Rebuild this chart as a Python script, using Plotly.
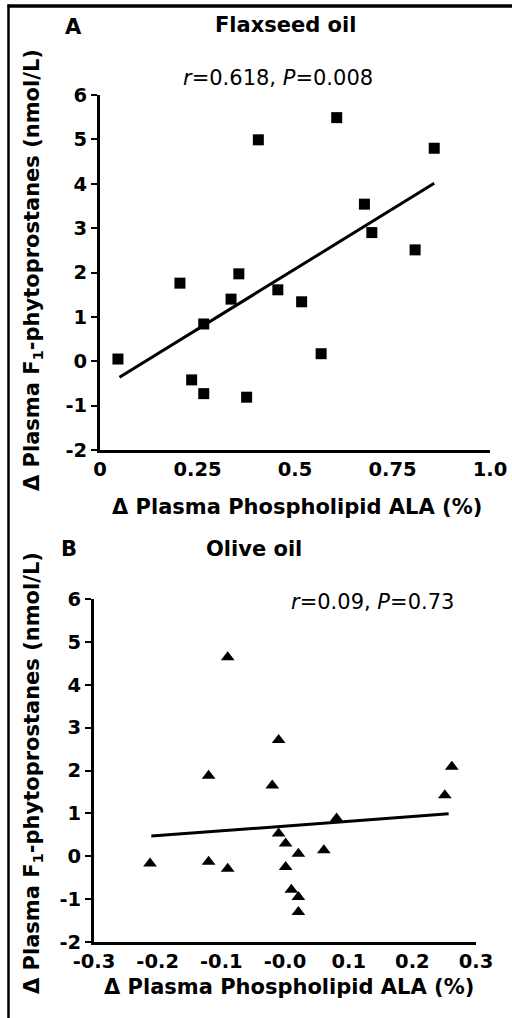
import plotly.graph_objects as go

W, H = 512, 1018

# Panel A: Flaxseed oil
flax_ala = [0.046, 0.205, 0.235, 0.266, 0.266, 0.336, 0.356, 0.376, 0.406,
            0.456, 0.517, 0.567, 0.607, 0.678, 0.697, 0.808, 0.857]
flax_f1 = [0.05, 1.76, -0.42, -0.73, 0.84, 1.40, 1.97, -0.81, 4.99,
           1.61, 1.34, 0.17, 5.49, 3.54, 2.90, 2.51, 4.80]
flax_fit_x = [0.05, 0.857]
flax_fit_y = [-0.36, 4.01]

# Panel B: Olive oil
olive_ala = [-0.212, -0.120, -0.120, -0.090, -0.090, -0.020, -0.010, -0.010,
             0.001, 0.021, 0.001, 0.010, 0.021, 0.021, 0.061, 0.081, 0.251, 0.262]
olive_f1 = [-0.17, 1.88, -0.13, -0.29, 4.64, 1.65, 2.71, 0.53,
            0.30, 0.06, -0.25, -0.78, -0.95, -1.30, 0.14, 0.88, 1.42, 2.09]
olive_fit_x = [-0.210, 0.257]
olive_fit_y = [0.47, 0.99]

y_ticks = [-2, -1, 0, 1, 2, 3, 4, 5, 6]
y_ticktext = ["-2", "-1", "0", "1", "2", "3", "4", "5", "6"]
xa_ticks = [0, 0.25, 0.5, 0.75, 1.0]
xa_ticktext = ["0", "0.25", "0.5", "0.75", "1.0"]
xb_ticks = [-0.3, -0.2, -0.1, 0.0, 0.1, 0.2, 0.3]
xb_ticktext = ["-0.3", "-0.2", "-0.1", "-0.0", "0.1", "0.2", "0.3"]

x_title = "\u0394 Plasma Phospholipid ALA (%)"
y_title = "\u0394 Plasma F<sub>1</sub>-phytoprostanes (nmol/L)"

FONT = "DejaVu Sans"
tickfont = dict(family=FONT, size=19.5, color="black", weight="bold")

fig = go.Figure()
fig.add_trace(go.Scatter(x=flax_ala, y=flax_f1, mode="markers",
                         marker=dict(symbol="square", size=11, color="black"),
                         xaxis="x", yaxis="y"))
fig.add_trace(go.Scatter(x=flax_fit_x, y=flax_fit_y, mode="lines",
                         line=dict(color="black", width=3), xaxis="x", yaxis="y"))
fig.add_trace(go.Scatter(x=olive_ala, y=olive_f1, mode="markers",
                         marker=dict(symbol="triangle-up", size=12, color="black"),
                         xaxis="x2", yaxis="y2"))
fig.add_trace(go.Scatter(x=olive_fit_x, y=olive_fit_y, mode="lines",
                         line=dict(color="black", width=3), xaxis="x2", yaxis="y2"))


def px(x):
    return x / W


def py(y):
    return 1 - y / H


xcommon = dict(showline=True, linecolor="black", linewidth=3, ticks="",
               showgrid=False, zeroline=False, tickmode="array", tickfont=tickfont,
               automargin=False)
ycommon = dict(showline=True, linecolor="black", linewidth=3, ticks="outside",
               ticklen=6, tickwidth=2, tickcolor="black", showgrid=False,
               zeroline=False, tickmode="array", tickvals=y_ticks,
               ticktext=y_ticktext, range=[-2, 6], tickfont=tickfont,
               automargin=False)

fig.update_layout(
    template="none",
    width=W, height=H,
    margin=dict(l=0, r=0, t=0, b=0, pad=0, autoexpand=False),
    paper_bgcolor="white", plot_bgcolor="white",
    showlegend=False, hovermode=False,
    xaxis=dict(domain=[px(100), px(490)], range=[0, 1.0], anchor="y",
               tickvals=xa_ticks, ticktext=xa_ticktext, **xcommon),
    yaxis=dict(domain=[py(450), py(95)], anchor="x", **ycommon),
    xaxis2=dict(domain=[px(94), px(476)], range=[-0.3, 0.3], anchor="y2",
                tickvals=xb_ticks, ticktext=xb_ticktext, **xcommon),
    yaxis2=dict(domain=[py(942), py(599)], anchor="x2", **ycommon),
)

bold = dict(family=FONT, size=21, color="black", weight="bold")
reg = dict(family=FONT, size=21, color="black")

ann = [
    ("A", 73, 27, bold, 0),
    ("Flaxseed oil", 285, 25, bold, 0),
    ("<i>r</i>=0.618, <i>P</i>=0.008", 278, 78, reg, 0),
    (x_title, 297, 507, bold, 0),
    (y_title, 33, 270, bold, -90),
    ("B", 69, 549, bold, 0),
    ("Olive oil", 254, 549, bold, 0),
    ("<i>r</i>=0.09, <i>P</i>=0.73", 372, 602, reg, 0),
    (x_title, 289, 987, bold, 0),
    (y_title, 33, 773, bold, -90),
]
for text, x, y, f, ang in ann:
    fig.add_annotation(text=text, x=px(x), y=py(y), xref="paper", yref="paper",
                       xanchor="center", yanchor="middle", showarrow=False,
                       font=f, textangle=ang)

# outer frame: top and left edges visible in the reference
fig.add_shape(type="line", xref="paper", yref="paper",
              x0=px(7.5), x1=1.0, y0=py(6), y1=py(6),
              line=dict(color="black", width=3.5))
fig.add_shape(type="line", xref="paper", yref="paper",
              x0=px(8.5), x1=px(8.5), y0=0.0, y1=py(4.5),
              line=dict(color="black", width=2.5))

# remove the page's default body margin so the figure fills the window
fig.write_html("out.html",
               config={"displayModeBar": False},
               post_script="document.body.style.margin='0';"
                           "document.body.style.overflow='hidden';")
